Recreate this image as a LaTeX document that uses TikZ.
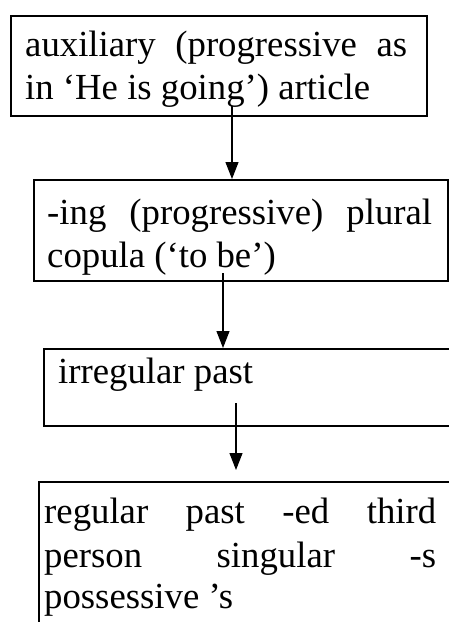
\documentclass[tikz,border=0pt]{standalone}
\usepackage{fontspec}
\setmainfont{Liberation Serif}
\usetikzlibrary{arrows.meta}
\begin{document}
\begin{tikzpicture}[x=1pt,y=-1pt,
  box/.style={draw, line width=1.8pt, anchor=north west, inner sep=0pt},
  txt/.style={inner sep=0pt, anchor=base west, font=\fontsize{36.75}{43}\selectfont},
  arr/.style={line width=1.1pt, -{Triangle[width=13pt,length=17pt]}}]
\useasboundingbox (0,0) rectangle (449,622);
\clip (0,0) rectangle (449,622);

% boxes
\node[box, minimum width=416pt, minimum height=100pt] (b1) at (10,15) {};
\node[box, minimum width=414pt, minimum height=101pt] (b2) at (33,179) {};
\node[box, minimum width=427pt, minimum height=77pt]  (b3) at (43,348) {};
\node[box, minimum width=432pt, minimum height=170pt] (b4) at (38,481) {};

% box texts
\node[txt] (t1a) at (25,56) {\makebox[382pt][s]{auxiliary (progressive as}};
\node[txt] (t1b) at (25,99) {in ‘He is going’) article};
\node[txt] (t2a) at (47,224) {\makebox[385pt][s]{-ing (progressive) plural}};
\node[txt] (t2b) at (47,267) {copula (‘to be’)};
\node[txt] (t3)  at (58,383) {irregular past};
\node[txt] (t4a) at (44,523) {\makebox[392pt][s]{regular past -ed third}};
\node[txt] (t4b) at (44,567) {\makebox[392pt][s]{person singular -s}};
\node[txt] (t4c) at (44,608) {possessive ’s};

% connectors
\coordinate (s1) at (232,106);
\coordinate (s2) at (223,273);
\coordinate (s3) at (236,403);
\coordinate (e3) at (236,470);
\draw[arr] (s1) -- (s1 |- b2.north);
\draw[arr] (s2) -- (s2 |- b3.north);
\draw[arr] (s3) -- (e3);
\end{tikzpicture}
\end{document}
